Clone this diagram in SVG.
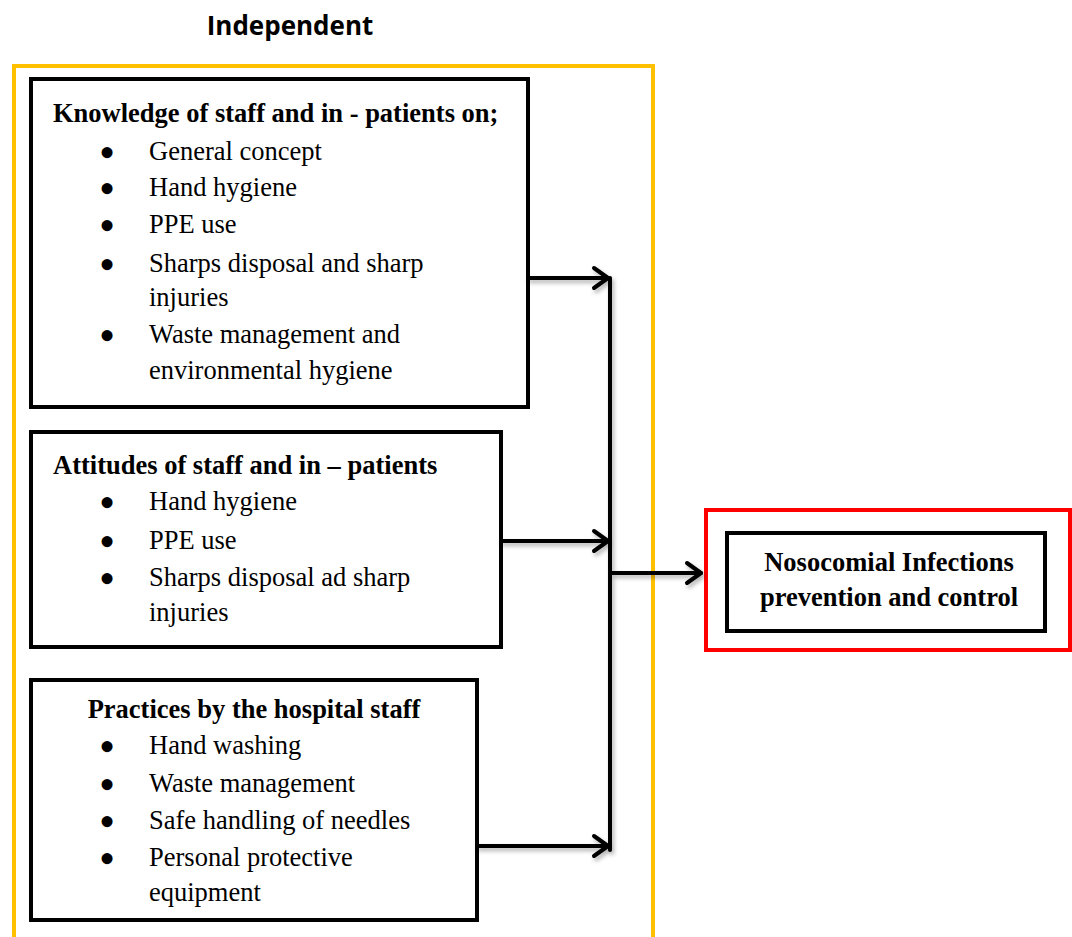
<svg xmlns="http://www.w3.org/2000/svg" width="1072" height="937" viewBox="0 0 1072 937">
<style>
.t{font-family:"Liberation Serif","Times New Roman",serif;font-size:26.5px;fill:#000}
.b{font-weight:bold}
.bl{font-family:"Liberation Serif","Times New Roman",serif;font-size:46px;fill:#000;text-anchor:middle}
.box{fill:#fff;stroke:#000;stroke-width:4}
.ln{fill:none;stroke:#000;stroke-width:4;stroke-linecap:round;stroke-linejoin:round}
</style>
<defs>
<filter id="sh" x="-20%" y="-20%" width="140%" height="140%">
<feDropShadow dx="2" dy="3" stdDeviation="2" flood-color="#000" flood-opacity="0.3"/>
</filter>
</defs>
<rect width="1072" height="937" fill="#fff"/>
<text x="290" y="35" text-anchor="middle" style="font-family:'Open Sans','Liberation Sans',sans-serif;font-size:26px;font-weight:bold">Independent</text>
<path d="M14,940 L14,66 L653,66 L653,940" fill="none" stroke="#FFC000" stroke-width="4"/>
<g id="knowledge">
<rect class="box" x="31" y="79" width="497" height="328"/>
<text class="t b" x="53" y="122">Knowledge of staff and in - patients on;</text>
<g class="bl">
<text x="107" y="168">•</text>
<text x="107" y="204">•</text>
<text x="107" y="241">•</text>
<text x="107" y="280">•</text>
<text x="107" y="351">•</text>
</g>
<g class="t">
<text x="149" y="160">General concept</text>
<text x="149" y="196">Hand hygiene</text>
<text x="149" y="233">PPE use</text>
<text x="149" y="272">Sharps disposal and sharp</text>
<text x="149" y="306">injuries</text>
<text x="149" y="343">Waste management and</text>
<text x="149" y="379">environmental hygiene</text>
</g>
</g>
<g id="attitudes">
<rect class="box" x="31" y="432" width="470" height="215"/>
<text class="t b" x="53" y="474">Attitudes of staff and in – patients</text>
<g class="bl">
<text x="107" y="518">•</text>
<text x="107" y="557">•</text>
<text x="107" y="594">•</text>
</g>
<g class="t">
<text x="149" y="510">Hand hygiene</text>
<text x="149" y="549">PPE use</text>
<text x="149" y="586">Sharps disposal ad sharp</text>
<text x="149" y="621">injuries</text>
</g>
</g>
<g id="practices">
<rect class="box" x="31" y="680" width="446" height="240"/>
<text class="t b" x="254" y="718" text-anchor="middle">Practices by the hospital staff</text>
<g class="bl">
<text x="107" y="762">•</text>
<text x="107" y="800">•</text>
<text x="107" y="837">•</text>
<text x="107" y="874">•</text>
</g>
<g class="t">
<text x="149" y="754">Hand washing</text>
<text x="149" y="792">Waste management</text>
<text x="149" y="829">Safe handling of needles</text>
<text x="149" y="866">Personal protective</text>
<text x="149" y="901">equipment</text>
</g>
</g>
<g id="outcome">
<rect x="706" y="510" width="364" height="140" fill="#fff" stroke="#FF0000" stroke-width="4"/>
<rect class="box" x="727" y="533" width="318" height="98"/>
<text class="t b" x="889" y="571" text-anchor="middle">Nosocomial Infections</text>
<text class="t b" x="889" y="606" text-anchor="middle">prevention and control</text>
</g>
<g id="connectors" filter="url(#sh)">
<path class="ln" d="M610,278 L610,850"/>
<path class="ln" d="M528,278 L608,278"/>
<path class="ln" d="M594,268 L608,278 L594,288"/>
<path class="ln" d="M501,541 L608,541"/>
<path class="ln" d="M594,531 L608,541 L594,551"/>
<path class="ln" d="M477,846 L608,846"/>
<path class="ln" d="M594,836 L608,846 L594,856"/>
<path class="ln" d="M610,573 L701,573"/>
<path class="ln" d="M687,563 L701,573 L687,583"/>
</g>
</svg>
